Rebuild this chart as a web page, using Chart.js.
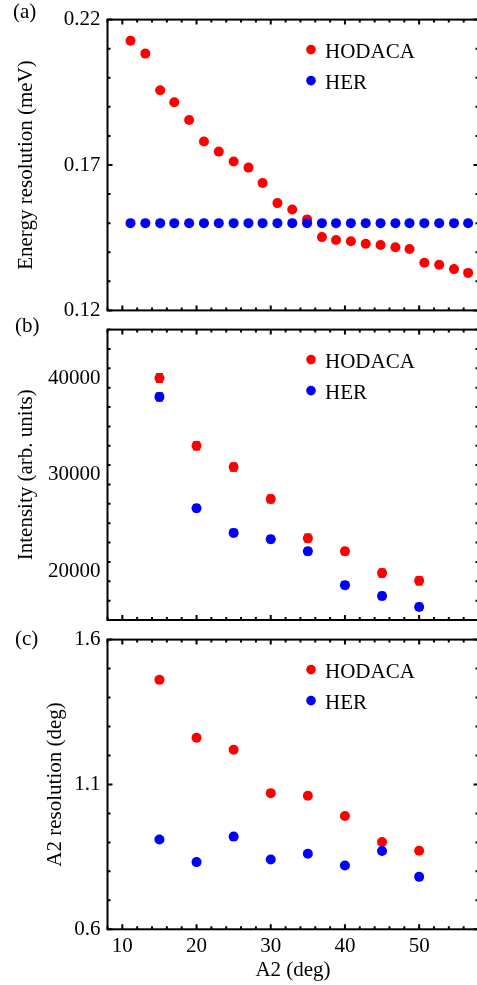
<!DOCTYPE html>
<html>
<head>
<meta charset="utf-8">
<script src="https://cdn.jsdelivr.net/npm/chart.js@4.4.0/dist/chart.umd.min.js"></script>
<style>
  html, body { margin: 0; padding: 0; background: #fff; }
  #wrap { position: relative; width: 477px; height: 985px; overflow: hidden; }
  canvas { position: absolute; left: 0; }
</style>
</head>
<body>
<div id="wrap">
  <canvas id="chartA" width="490" height="330" style="top:0px"></canvas>
  <canvas id="chartB" width="490" height="330" style="top:310px"></canvas>
  <canvas id="chartC" width="490" height="365" style="top:620px"></canvas>
</div>
<script>
// panel (a): energy resolution vs A2
const a2Fine = [11.1, 13.1, 15.1, 17.0, 19.0, 21.0, 23.0, 25.0, 27.0, 28.9, 30.9, 32.9,
                34.9, 36.9, 38.8, 40.8, 42.8, 44.8, 46.8, 48.7, 50.7, 52.7, 54.7, 56.6];
const energyHodaca = [0.2127, 0.2083, 0.1957, 0.1916, 0.1855, 0.1781, 0.1746, 0.1712,
                      0.1691, 0.1638, 0.1569, 0.1547, 0.1513, 0.1452, 0.1442, 0.1438,
                      0.1429, 0.1425, 0.1417, 0.1411, 0.1364, 0.1357, 0.1342, 0.1329];
const energyHer = [0.150, 0.150, 0.150, 0.150, 0.150, 0.150, 0.150, 0.150,
                   0.150, 0.150, 0.150, 0.150, 0.150, 0.150, 0.150, 0.150,
                   0.150, 0.150, 0.150, 0.150, 0.150, 0.150, 0.150, 0.150];

// panels (b) and (c)
const a2Coarse = [15, 20, 25, 30, 35, 40, 45, 50];
const intensityHodaca = [40000, 33000, 30800, 27500, 23450, 22100, 19850, 19050];
const intensityHodacaErr = [450, 400, 400, 400, 400, 350, 400, 400];
const intensityHer = [38050, 26550, 24000, 23350, 22100, 18600, 17480, 16350];
const intensityHerErr = [400, 350, 350, 350, 350, 350, 350, 350];
const a2ResHodaca = [1.461, 1.261, 1.220, 1.070, 1.061, 0.991, 0.901, 0.871];
const a2ResHer = [0.910, 0.832, 0.920, 0.841, 0.861, 0.820, 0.870, 0.781];

// axes
const xMajor = [10, 20, 30, 40, 50];
const xMinorStep = 2;
const yTicksA = [0.12, 0.17, 0.22];
const yTicksB = [20000, 30000, 40000];
const yTicksC = [0.6, 1.1, 1.6];

const RED = "#ff0000";
const BLUE = "#0000ff";
const FONT = "'Liberation Serif', 'Times New Roman', serif";

Chart.defaults.font.family = FONT;
Chart.defaults.font.size = 21;
Chart.defaults.color = "#000";

function steps(min, max, step) {
    const out = [];
    for (let v = min; v <= max + step / 1000; v += step) out.push(+v.toFixed(6));
    return out;
}

const framePlugin = {
    id: "frame",
    beforeDatasetsDraw(chart, args, opts) {
        if (!opts.errors) return;
        const { ctx, scales: { x, y } } = chart;
        ctx.save();
        ctx.lineWidth = 1.5;
        chart.data.datasets.forEach((ds, i) => {
            const err = opts.errors[i];
            ctx.strokeStyle = ds.backgroundColor;
            ds.data.forEach((p, j) => {
                const px = x.getPixelForValue(p.x);
                const top = y.getPixelForValue(p.y + err[j]);
                const bot = y.getPixelForValue(p.y - err[j]);
                ctx.beginPath();
                ctx.moveTo(px, top); ctx.lineTo(px, bot);
                ctx.moveTo(px - 3.5, top); ctx.lineTo(px + 3.5, top);
                ctx.moveTo(px - 3.5, bot); ctx.lineTo(px + 3.5, bot);
                ctx.stroke();
            });
        });
        ctx.restore();
    },
    afterDatasetsDraw(chart, args, opts) {
        const { ctx, chartArea: ca, scales: { x, y } } = chart;
        ctx.save();
        ctx.strokeStyle = "#000";
        ctx.lineWidth = 2;
        ctx.beginPath();
        // x ticks, top and bottom
        steps(x.min, x.max, xMinorStep).forEach((v) => {
            const len = xMajor.includes(v) ? 5 : 3;
            const px = x.getPixelForValue(v);
            ctx.moveTo(px, ca.bottom); ctx.lineTo(px, ca.bottom - len);
            ctx.moveTo(px, ca.top); ctx.lineTo(px, ca.top + len);
        });
        // y ticks, left and right
        steps(y.min, y.max, opts.yMinor).forEach((v) => {
            const len = opts.yMajor.some((m) => Math.abs(m - v) < 1e-6) ? 5 : 3;
            const py = y.getPixelForValue(v);
            ctx.moveTo(ca.left, py); ctx.lineTo(ca.left + len, py);
            ctx.moveTo(ca.right, py); ctx.lineTo(ca.right - len, py);
        });
        ctx.stroke();
        ctx.strokeRect(ca.left, ca.top, ca.right - ca.left, ca.bottom - ca.top);

        // legend inside the plot
        ctx.font = "21px " + FONT;
        ctx.textBaseline = "alphabetic";
        ctx.fillStyle = "#000";
        chart.data.datasets.forEach((ds, i) => {
            const cy = ca.top + 30 + i * 31;
            ctx.fillStyle = ds.backgroundColor;
            ctx.beginPath();
            ctx.arc(ca.left + 203.5, cy, 4.8, 0, Math.PI * 2);
            ctx.fill();
            ctx.fillStyle = "#000";
            ctx.fillText(ds.label, ca.left + 217.5, cy + 8.8);
        });

        // panel label
        ctx.fillText(opts.label, opts.labelX, opts.labelY);
        ctx.restore();
    },
};

function makeChart(id, cfg) {
    const toPts = (xs, ys) => xs.map((v, i) => ({ x: v, y: ys[i] }));
    return new Chart(document.getElementById(id), {
        type: "scatter",
        data: {
            datasets: [
                {
                    label: "HODACA",
                    data: toPts(cfg.xs, cfg.hodaca),
                    backgroundColor: RED,
                    borderWidth: 0,
                    pointRadius: 5,
                    order: 1,
                },
                {
                    label: "HER",
                    data: toPts(cfg.xs, cfg.her),
                    backgroundColor: BLUE,
                    borderWidth: 0,
                    pointRadius: 5,
                    order: 0,
                },
            ],
        },
        options: {
            responsive: false,
            animation: false,
            devicePixelRatio: 1,
            layout: { padding: { top: cfg.padTop, right: 11.5, left: 0, bottom: 0 } },
            plugins: {
                legend: { display: false },
                tooltip: { enabled: false },
                frame: {
                    label: cfg.label,
                    labelX: cfg.labelX,
                    labelY: cfg.labelY,
                    yMajor: cfg.yTicks,
                    yMinor: cfg.yMinor,
                    errors: cfg.errors,
                },
            },
            scales: {
                x: {
                    type: "linear",
                    min: 8,
                    max: 58,
                    grid: { display: false, drawTicks: false },
                    border: { display: false },
                    afterBuildTicks: (s) => { s.ticks = xMajor.map((v) => ({ value: v })); },
                    ticks: { display: cfg.showX, padding: 5 },
                    title: {
                        display: cfg.showX,
                        text: "A2 (deg)",
                        padding: { top: 0, bottom: 2.4 },
                    },
                    afterFit: (s) => { s.height = cfg.xHeight; },
                },
                y: {
                    type: "linear",
                    min: cfg.yMin,
                    max: cfg.yMax,
                    grid: { display: false, drawTicks: false },
                    border: { display: false },
                    afterBuildTicks: (s) => { s.ticks = cfg.yTicks.map((v) => ({ value: v })); },
                    ticks: { padding: 7, callback: cfg.fmt },
                    title: {
                        display: true,
                        text: cfg.yTitle,
                        padding: { top: cfg.titlePad, bottom: 0 },
                    },
                    afterFit: (s) => { s.width = 107.5; },
                },
            },
        },
        plugins: [framePlugin],
    });
}

makeChart("chartA", {
    xs: a2Fine, hodaca: energyHodaca, her: energyHer,
    yMin: 0.12, yMax: 0.22, yTicks: yTicksA, yMinor: 0.01,
    fmt: (v) => v.toFixed(2),
    yTitle: "Energy resolution (meV)", titlePad: 13.4,
    padTop: 14, xHeight: 17, showX: false,
    label: "(a)", labelX: 13, labelY: 17.5,
});

makeChart("chartB", {
    xs: a2Coarse, hodaca: intensityHodaca, her: intensityHer,
    errors: [intensityHodacaErr, intensityHerErr],
    yMin: 15000, yMax: 45000, yTicks: yTicksB, yMinor: 2000,
    fmt: (v) => String(v),
    yTitle: "Intensity (arb. units)", titlePad: 13.4,
    padTop: 13.3, xHeight: 20, showX: false,
    label: "(b)", labelX: 15, labelY: 21.5,
});

makeChart("chartC", {
    xs: a2Coarse, hodaca: a2ResHodaca, her: a2ResHer,
    yMin: 0.6, yMax: 1.6, yTicks: yTicksC, yMinor: 0.1,
    fmt: (v) => v.toFixed(1),
    yTitle: "A2 resolution (deg)", titlePad: 42.4,
    padTop: 12.7, xHeight: 55.7, showX: true,
    label: "(c)", labelX: 15, labelY: 25,
});
</script>
</body>
</html>
